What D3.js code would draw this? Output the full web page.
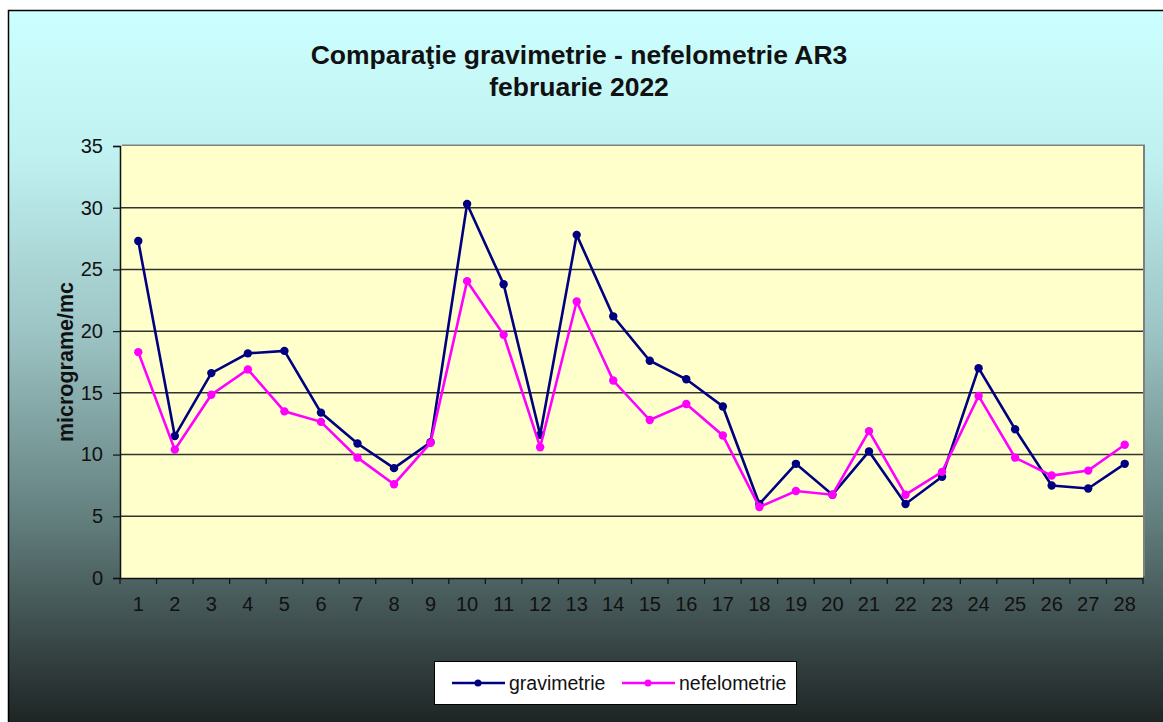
<!DOCTYPE html>
<html><head><meta charset="utf-8">
<script src="https://cdn.jsdelivr.net/npm/d3@7"></script>
<style>body{margin:0;background:#fff}svg{display:block}text{font-family:"Liberation Sans",Arial,sans-serif}</style>
</head><body><svg id="c" width="1163" height="722"></svg>
<script>
const days = d3.range(1, 29).map(String);
const gravimetrie = [27.3,11.5,16.6,18.2,18.4,13.4,10.9,8.9,11.0,30.3,23.8,11.6,27.8,21.2,17.6,16.1,13.9,6.0,9.25,6.75,10.25,6.0,8.2,17.0,12.05,7.5,7.25,9.25];
const nefelometrie = [18.3,10.4,14.85,16.9,13.5,12.65,9.75,7.6,10.95,24.05,19.7,10.6,22.4,16.0,12.8,14.1,11.55,5.75,7.05,6.75,11.9,6.75,8.6,14.75,9.75,8.3,8.7,10.8];
const yTicks = [0,5,10,15,20,25,30,35];
const seriesNames = ["gravimetrie","nefelometrie"];
const seriesColors = ["#000080","#ff00ff"];

const FF = "Liberation Sans, Arial, sans-serif";
const svg = d3.select("#c");
const defs = svg.append("defs");
const g = defs.append("linearGradient").attr("id","bg").attr("x1",0).attr("y1",0).attr("x2",0).attr("y2",1);
[[0,"#ccffff"],[0.2,"#c0f1f1"],[0.45,"#9cc3c3"],[0.7,"#63807f"],[0.85,"#3f4f4f"],[1,"#1b2020"]].forEach(s=>g.append("stop").attr("offset",s[0]).attr("stop-color",s[1]));

svg.append("rect").attr("x",8.5).attr("y",10.5).attr("width",1163).attr("height",722).attr("fill","url(#bg)").attr("stroke","#000").attr("stroke-width",1.5);

svg.append("text").attr("x",579).attr("y",64).attr("text-anchor","middle").attr("font-weight","bold").attr("font-size",26.5).attr("fill","#111").text("Comparaţie gravimetrie - nefelometrie AR3");
svg.append("text").attr("x",579).attr("y",96).attr("text-anchor","middle").attr("font-weight","bold").attr("font-size",26.5).attr("fill","#111").text("februarie 2022");

const L=120, R=1143, T=146, B=578;
const x = d3.scaleBand().domain(days).range([L,R]);
const y = d3.scaleLinear().domain([0,35]).range([B,T]);

svg.append("rect").attr("x",L+2).attr("y",T-1.5).attr("width",R-L).attr("height",B-T).attr("fill","#808080");
svg.append("rect").attr("x",L).attr("y",T).attr("width",R-L).attr("height",B-T).attr("fill","#ffffcc");

svg.append("g").selectAll("line").data(yTicks.filter(d=>d>0&&d<35)).join("line")
  .attr("x1",L).attr("x2",R).attr("y1",d=>y(d)).attr("y2",d=>y(d)).attr("stroke","#333").attr("stroke-width",1.5);

const ya = svg.append("g").attr("transform",`translate(${L},0)`).call(d3.axisLeft(y).tickValues(yTicks).tickSize(7).tickPadding(10));
ya.select(".domain").attr("stroke","#111").attr("stroke-width",1.5);
ya.selectAll(".tick line").attr("stroke","#111").attr("stroke-width",1.2);
ya.selectAll("text").attr("font-size",20).attr("fill","#111").style("font-family",FF);

const xa = svg.append("g").attr("transform",`translate(0,${B})`).call(d3.axisBottom(x).tickSize(0).tickPadding(19));
xa.select(".domain").attr("stroke","#111").attr("stroke-width",1.5);
xa.selectAll("text").attr("font-size",20).attr("fill","#111").style("font-family",FF);
svg.append("g").selectAll("line").data(days.concat(["end"])).join("line")
  .attr("x1",(d,i)=>L+i*x.step()).attr("x2",(d,i)=>L+i*x.step()).attr("y1",B).attr("y2",B+6).attr("stroke","#111").attr("stroke-width",1.2);

svg.append("text").attr("transform",`translate(73,${(T+B)/2}) rotate(-90)`).attr("text-anchor","middle").attr("font-weight","bold").attr("font-size",21.5).attr("fill","#111").text("micrograme/mc");

const cx = d => x(d)+x.bandwidth()/2;
[gravimetrie, nefelometrie].forEach((vals,k)=>{
  const data = vals.map((v,i)=>({d:days[i],v}));
  svg.append("path").datum(data).attr("fill","none").attr("stroke",seriesColors[k]).attr("stroke-width",2.6)
    .attr("d",d3.line().x(p=>cx(p.d)).y(p=>y(p.v)));
  svg.append("g").selectAll("circle").data(data).join("circle").attr("cx",p=>cx(p.d)).attr("cy",p=>y(p.v)).attr("r",4.2).attr("fill",seriesColors[k]);
});

const lg = svg.append("g");
lg.append("rect").attr("x",434.5).attr("y",661.5).attr("width",362).attr("height",43).attr("fill","#fff").attr("stroke","#000").attr("stroke-width",1);
const lx=[452,622];
seriesNames.forEach((n,k)=>{
  lg.append("line").attr("x1",lx[k]).attr("x2",lx[k]+53).attr("y1",683).attr("y2",683).attr("stroke",seriesColors[k]).attr("stroke-width",2.5);
  lg.append("circle").attr("cx",lx[k]+26).attr("cy",683).attr("r",3.5).attr("fill",seriesColors[k]);
  lg.append("text").attr("x",lx[k]+57).attr("y",690).attr("font-size",19.5).attr("fill","#111").text(n);
});
</script></body></html>
